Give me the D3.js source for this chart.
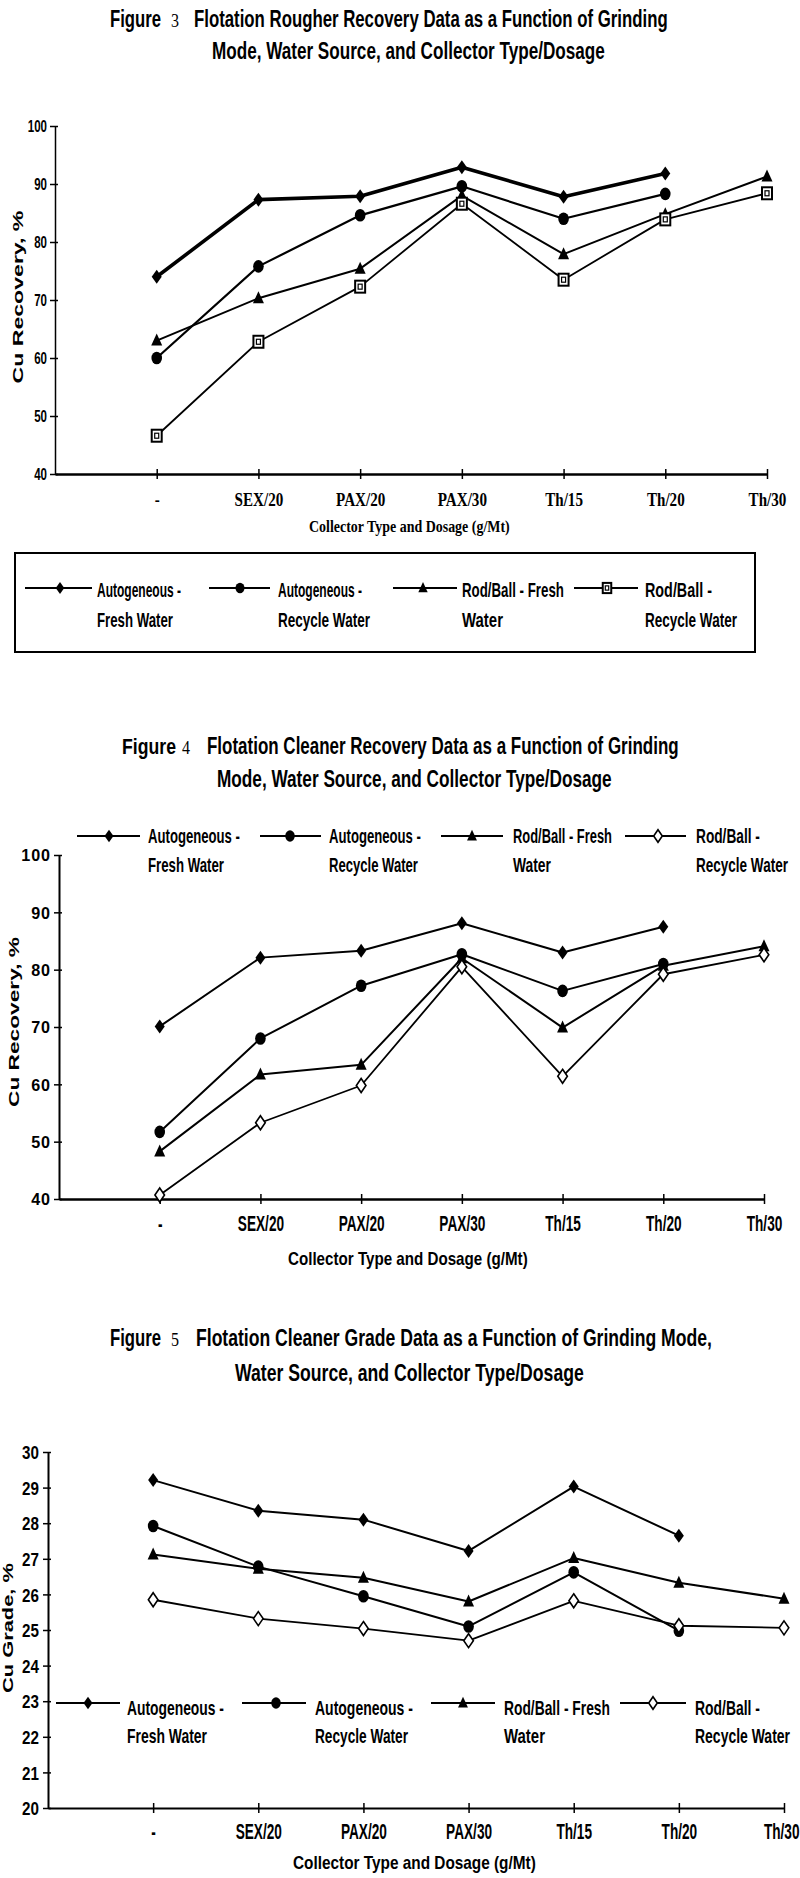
<!DOCTYPE html>
<html><head><meta charset="utf-8">
<script src="https://cdn.jsdelivr.net/npm/d3@7"></script>
<style>body{margin:0;background:#fff;} svg{display:block;}</style>
</head><body>
<svg id="c" width="800" height="1878"></svg>
<script>
// ---------------- DATA ----------------
const categories = ["-", "SEX/20", "PAX/20", "PAX/30", "Th/15", "Th/20", "Th/30"];
const seriesNames = ["Autogeneous - Fresh Water", "Autogeneous - Recycle Water", "Rod/Ball - Fresh Water", "Rod/Ball - Recycle Water"];
const legendLines = [["Autogeneous -", "Fresh Water"], ["Autogeneous -", "Recycle Water"], ["Rod/Ball - Fresh", "Water"], ["Rod/Ball -", "Recycle Water"]];
const xAxisTitle = "Collector Type and Dosage (g/Mt)";

// Figure 3 – Rougher recovery
const fig3Title = ["Figure", "3", "Flotation Rougher Recovery Data as a Function of Grinding"];
const fig3Title2 = "Mode, Water Source, and Collector Type/Dosage";
const fig3YTitle = "Cu Recovery, %";
const fig3YTicks = [40, 50, 60, 70, 80, 90, 100];
const fig3AutoFresh   = [74.0, 87.3, 87.9, 92.9, 87.8, 91.8, null];
const fig3AutoRecycle = [60.0, 75.8, 84.6, 89.6, 84.0, 88.3, null];
const fig3RodFresh    = [63.0, 70.3, 75.4, 88.0, 77.9, 84.8, 91.3];
const fig3RodRecycle  = [46.6, 62.8, 72.3, 86.6, 73.5, 83.9, 88.4];

// Figure 4 – Cleaner recovery
const fig4Title = ["Figure", "4", "Flotation Cleaner Recovery Data as a Function of Grinding"];
const fig4Title2 = "Mode, Water Source, and Collector Type/Dosage";
const fig4YTitle = "Cu Recovery, %";
const fig4YTicks = [40, 50, 60, 70, 80, 90, 100];
const fig4AutoFresh   = [70.1, 82.1, 83.3, 88.1, 83.0, 87.5, null];
const fig4AutoRecycle = [51.7, 68.0, 77.2, 82.7, 76.3, 81.0, null];
const fig4RodFresh    = [48.3, 61.7, 63.4, 82.0, 69.9, 80.7, 84.1];
const fig4RodRecycle  = [40.7, 53.3, 59.8, 80.5, 61.4, 79.2, 82.6];

// Figure 5 – Cleaner grade
const fig5Title = ["Figure", "5", "Flotation Cleaner Grade Data as a Function of Grinding Mode,"];
const fig5Title2 = "Water Source, and Collector Type/Dosage";
const fig5YTitle = "Cu Grade, %";
const fig5YTicks = [20, 21, 22, 23, 24, 25, 26, 27, 28, 29, 30];
const fig5AutoFresh   = [29.21, 28.35, 28.10, 27.22, 29.03, 27.65, null];
const fig5AutoRecycle = [27.92, 26.78, 25.95, 25.10, 26.62, 24.98, null];
const fig5RodFresh    = [27.12, 26.72, 26.47, 25.80, 27.02, 26.33, 25.88];
const fig5RodRecycle  = [25.85, 25.32, 25.04, 24.70, 25.82, 25.12, 25.06];

// ---------------- DRAWING ----------------
const svg = d3.select("#c");
const SANS = "'Liberation Sans', Arial, sans-serif";
const SERIF = "'Liberation Serif', 'Times New Roman', serif";

// text squeezed horizontally to a target width (transform, so its box is exact)
function txt(g, s, x, y, o) {
  const t = g.append("text").attr("x", 0).attr("y", 0).text(s)
    .attr("font-family", o.family || SANS).attr("font-size", o.size)
    .attr("font-weight", o.weight || "bold").attr("fill", "#000");
  const w = t.node().getComputedTextLength();
  const sx = o.len ? o.len / w : 1;
  const rot = o.rotate ? ` rotate(${o.rotate})` : "";
  if (o.rotate) t.attr("x", -w / 2);
  t.attr("transform", `translate(${x},${y})${rot} scale(${sx},1)`);
  return t;
}

function marker(g, type, cx, cy, k) {
  k = k || 1;
  if (type === "diamond") {
    g.append("path").attr("d", `M${cx},${cy - 7 * k}L${cx + 5 * k},${cy}L${cx},${cy + 7 * k}L${cx - 5 * k},${cy}Z`).attr("fill", "#000");
  } else if (type === "circle") {
    g.append("ellipse").attr("cx", cx).attr("cy", cy).attr("rx", 5.3 * k).attr("ry", 6.3 * k).attr("fill", "#000");
  } else if (type === "triangle") {
    g.append("path").attr("d", `M${cx},${cy - 7 * k}L${cx + 5.5 * k},${cy + 5 * k}L${cx - 5.5 * k},${cy + 5 * k}Z`).attr("fill", "#000");
  } else if (type === "square") {
    g.append("rect").attr("x", cx - 5 * k).attr("y", cy - 6 * k).attr("width", 10 * k).attr("height", 12 * k)
      .attr("fill", "#fff").attr("stroke", "#000").attr("stroke-width", 2);
    g.append("rect").attr("x", cx - 2 * k).attr("y", cy - 2.5 * k).attr("width", 4 * k).attr("height", 5 * k)
      .attr("fill", "none").attr("stroke", "#000").attr("stroke-width", 1.2);
  } else if (type === "opendiamond") {
    g.append("path").attr("d", `M${cx},${cy - 7 * k}L${cx + 4.8 * k},${cy}L${cx},${cy + 7 * k}L${cx - 4.8 * k},${cy}Z`)
      .attr("fill", "#fff").attr("stroke", "#000").attr("stroke-width", 1.6);
  }
}

function drawChart(cfg) {
  const g = svg.append("g");
  // titles: "Figure", number (thin serif), rest
  const T = cfg.title;
  txt(g, cfg.titleParts[0], T.fx, T.y1, {size: 23, len: T.fw});
  txt(g, cfg.titleParts[1], T.nx, T.y1, {size: 19, family: SERIF, weight: "normal", len: T.nw});
  txt(g, cfg.titleParts[2], T.rx, T.y1, {size: 23, len: T.rw});
  txt(g, cfg.title2, T.x2, T.y2, {size: 23, len: T.len2});

  const x = d3.scaleLinear().domain([0, categories.length]).range([cfg.x0, cfg.x1]);
  const y = d3.scaleLinear().domain(cfg.yDomain).range([cfg.yBottom, cfg.yTop]);

  // y axis
  const ya = g.append("g").attr("transform", `translate(${cfg.x0},0)`)
    .call(d3.axisLeft(y).tickValues(cfg.yTicks).tickSizeInner(5).tickSizeOuter(0).tickPadding(0));
  ya.select(".domain").attr("stroke-width", cfg.yAxisW);
  ya.selectAll(".tick line").attr("x2", -5).attr("x1", 3).attr("stroke-width", 1.5);
  ya.selectAll(".tick text")
    .attr("font-family", cfg.yLab.family).attr("font-size", cfg.yLab.size).attr("font-weight", "bold")
    .attr("letter-spacing", cfg.yLab.ls || 0)
    .attr("x", -cfg.yLab.gap / cfg.yLab.sx).attr("dy", cfg.yLab.dy)
    .attr("transform", `scale(${cfg.yLab.sx},1)`);

  // x axis
  const n = categories.length;
  const xa = g.append("g").attr("transform", `translate(0,${cfg.yBottom})`)
    .call(d3.axisBottom(x).tickValues(d3.range(1, n + 1))
      .tickFormat(i => categories[i - 1]).tickSizeInner(4).tickSizeOuter(0).tickPadding(0));
  xa.select(".domain").attr("stroke-width", cfg.xAxisW);
  xa.selectAll(".tick line").attr("y1", -5).attr("y2", 5).attr("stroke-width", 1.5);
  xa.selectAll(".tick text")
    .attr("font-family", cfg.xLab.family).attr("font-size", cfg.xLab.size).attr("font-weight", "bold")
    .attr("y", cfg.xLab.dy).attr("dy", 0)
    .attr("transform", `scale(${cfg.xLab.sx},1)`)
    .attr("x", 0);
  if (cfg.xLab.lastEnd) {
    const lastX = x(n);
    xa.selectAll(".tick text").filter(d => d === n)
      .attr("text-anchor", "end").attr("x", (cfg.xLab.lastEnd - lastX) / cfg.xLab.sx);
  }
  // axis titles
  txt(g, xAxisTitle, cfg.xTitle.x, cfg.xTitle.y, {size: cfg.xTitle.size, family: cfg.xTitle.family, len: cfg.xTitle.len});
  txt(g, cfg.yTitleText, cfg.yTitle.x, cfg.yTitle.cy, {size: cfg.yTitle.size, len: cfg.yTitle.len, rotate: -90});

  // series
  const line = d3.line().defined(d => d[1] != null).x(d => x(d[0] + 1)).y(d => y(d[1]));
  cfg.series.forEach((vals, si) => {
    const pts = vals.map((v, i) => [i, v]);
    g.append("path").attr("d", line(pts)).attr("fill", "none").attr("stroke", "#000")
      .attr("stroke-width", cfg.lineW[si]).attr("stroke-linejoin", "round");
  });
  cfg.series.forEach((vals, si) => {
    vals.forEach((v, i) => { if (v != null) marker(g, cfg.markers[si], x(i + 1), y(v)); });
  });

  // legend
  if (cfg.legend.box) {
    const b = cfg.legend.box;
    g.append("rect").attr("x", b[0]).attr("y", b[1]).attr("width", b[2]).attr("height", b[3])
      .attr("fill", "none").attr("stroke", "#000").attr("stroke-width", 2);
  }
  cfg.legend.items.forEach((it, si) => {
    g.append("line").attr("x1", it[0]).attr("x2", it[1]).attr("y1", cfg.legend.ly).attr("y2", cfg.legend.ly)
      .attr("stroke", "#000").attr("stroke-width", 2.2);
    marker(g, cfg.markers[si], it[2], cfg.legend.ly, cfg.legend.mk || 1);
    txt(g, legendLines[si][0], it[3], cfg.legend.b1, {size: 20, len: it[4]});
    txt(g, legendLines[si][1], it[3], cfg.legend.b2, {size: 20, len: it[5]});
  });
}

drawChart({
  titleParts: fig3Title, title2: fig3Title2,
  title: {fx: 110, fw: 51, nx: 171, nw: 8, rx: 194, rw: 474, y1: 27, x2: 212, y2: 59, len2: 393},
  x0: 55, x1: 767, yTop: 126, yBottom: 474, yDomain: [40, 100], yTicks: fig3YTicks,
  yAxisW: 1.5, xAxisW: 2.5,
  yLab: {family: SANS, size: 16, sx: 0.72, gap: 8, dy: "0.35em"},
  xLab: {family: SERIF, size: 18, sx: 0.84, dy: 32},
  xTitle: {x: 309, y: 532, len: 201, size: 16, family: SERIF},
  yTitleText: fig3YTitle, yTitle: {x: 23, cy: 297, len: 173, size: 14},
  series: [fig3AutoFresh, fig3AutoRecycle, fig3RodFresh, fig3RodRecycle],
  markers: ["diamond", "circle", "triangle", "square"],
  lineW: [3.6, 2.2, 2.0, 1.8],
  legend: {box: [15, 553, 740, 99], ly: 588, b1: 597, b2: 627, mk: 0.85,
    items: [[25, 92, 60, 97, 84, 76], [209, 270, 240, 278, 84, 92], [393, 457, 423, 462, 102, 41], [574, 638, 607, 645, 67, 92]]}
});

drawChart({
  titleParts: fig4Title, title2: fig4Title2,
  title: {fx: 122, fw: 54, nx: 182, nw: 8, rx: 207, rw: 472, y1: 754, x2: 217, y2: 787, len2: 395},
  x0: 59, x1: 764, yTop: 855, yBottom: 1199, yDomain: [40, 100], yTicks: fig4YTicks,
  yAxisW: 2, xAxisW: 2.5,
  yLab: {family: SANS, size: 17, sx: 0.95, gap: 8, dy: "0.35em", ls: 1},
  xLab: {family: SANS, size: 22, sx: 0.62, dy: 32},
  xTitle: {x: 288, y: 1265, len: 240, size: 18, family: SANS},
  yTitleText: fig4YTitle, yTitle: {x: 19, cy: 1022, len: 170, size: 14},
  series: [fig4AutoFresh, fig4AutoRecycle, fig4RodFresh, fig4RodRecycle],
  markers: ["diamond", "circle", "triangle", "opendiamond"],
  lineW: [2.0, 2.0, 2.0, 1.8],
  legend: {box: null, ly: 836, b1: 843, b2: 872, mk: 0.9,
    items: [[77, 140, 109, 148, 92, 76], [260, 321, 290, 329, 92, 89], [441, 503, 472, 513, 99, 38], [625, 686, 658, 696, 64, 92]]}
});

drawChart({
  titleParts: fig5Title, title2: fig5Title2,
  title: {fx: 110, fw: 51, nx: 171, nw: 8, rx: 196, rw: 516, y1: 1346, x2: 235, y2: 1381, len2: 349},
  x0: 48, x1: 784, yTop: 1452, yBottom: 1808, yDomain: [20, 30], yTicks: fig5YTicks,
  yAxisW: 2, xAxisW: 2,
  yLab: {family: SANS, size: 19, sx: 0.8, gap: 9, dy: "0.35em"},
  xLab: {family: SANS, size: 22, sx: 0.62, dy: 31, lastEnd: 799},
  xTitle: {x: 293, y: 1869, len: 243, size: 18, family: SANS},
  yTitleText: fig5YTitle, yTitle: {x: 13, cy: 1628, len: 130, size: 14},
  series: [fig5AutoFresh, fig5AutoRecycle, fig5RodFresh, fig5RodRecycle],
  markers: ["diamond", "circle", "triangle", "opendiamond"],
  lineW: [2.0, 2.0, 2.0, 1.8],
  legend: {box: null, ly: 1703, b1: 1715, b2: 1743, mk: 0.9,
    items: [[56, 120, 88, 127, 97, 80], [242, 306, 276, 315, 98, 93], [431, 495, 463, 504, 106, 41], [620, 686, 653, 695, 65, 95]]}
});
</script>
</body></html>
